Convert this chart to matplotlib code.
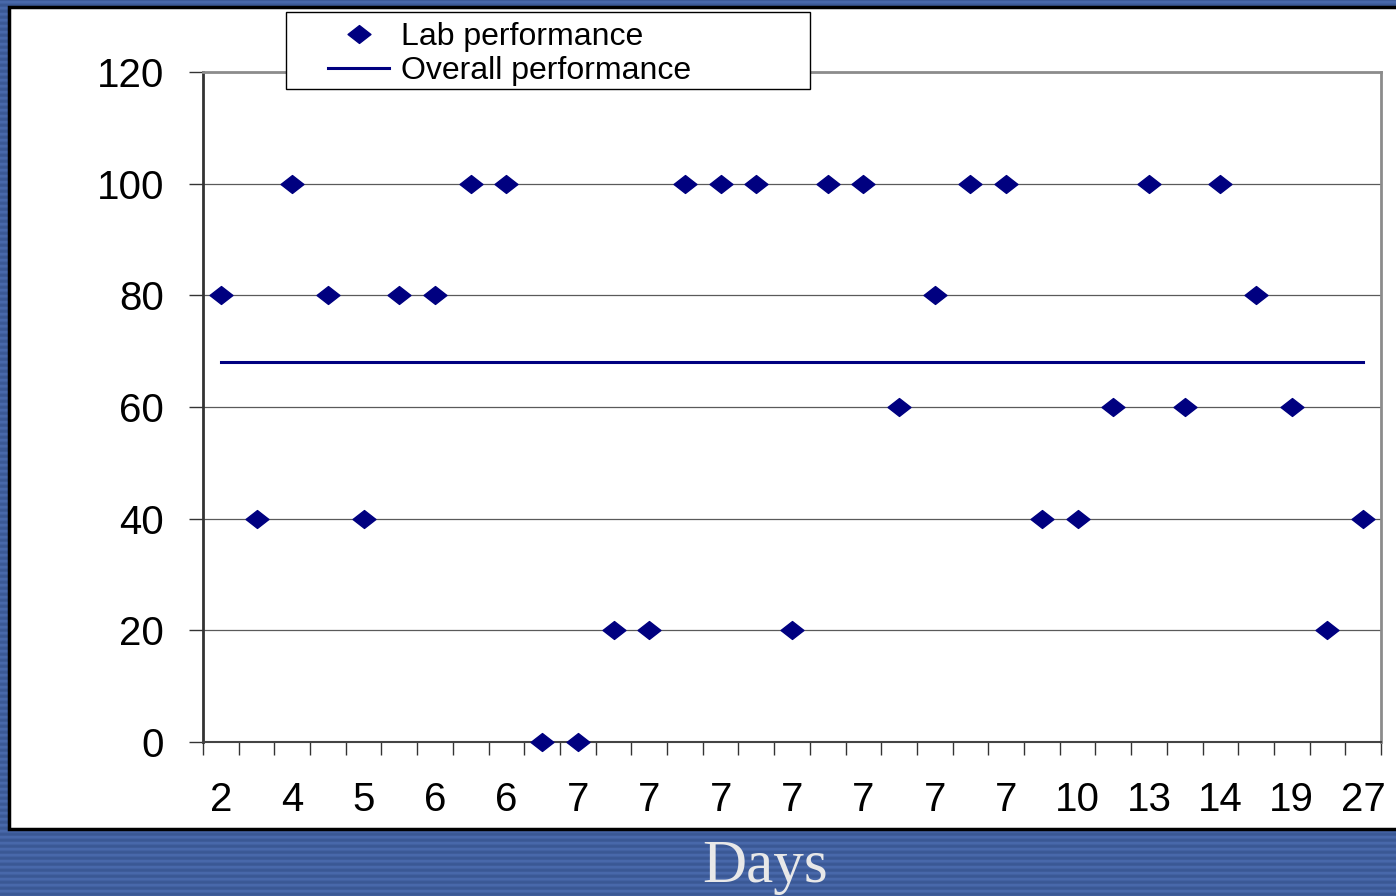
import matplotlib
matplotlib.use('Agg')
import matplotlib.pyplot as plt
import numpy as np
from matplotlib.patches import Rectangle
from matplotlib.path import Path
from matplotlib.lines import Line2D

plt.rcParams['font.family'] = ['Liberation Sans', 'DejaVu Sans']

# scores per lab session and the day labels shown under every other session
lab_scores = [80, 40, 100, 80, 40, 80, 80, 100, 100, 0, 0, 20, 20, 100, 100, 100, 20,
              100, 100, 60, 80, 100, 100, 40, 40, 60, 100, 60, 100, 80, 60, 20, 40]
day_labels = ['2', '4', '5', '6', '6', '7', '7', '7', '7', '7', '7', '7',
              '10', '13', '14', '19', '27']
overall_score = 68
y_ticks = [0, 20, 40, 60, 80, 100, 120]

NAVY = '#000080'
W, H = 1396, 896


def main():
    fig = plt.figure(figsize=(W / 100, H / 100), dpi=100)

    # striped blue slide background
    bg = fig.add_axes([0, 0, 1, 1], zorder=-3)
    rows = np.array([0.0, 0.3, 1.0, 1.0, 0.6, 0.1] * (H // 6 + 1))[:H]
    bg.imshow(rows[:, None], cmap=matplotlib.colors.LinearSegmentedColormap.from_list(
        'stripe', ['#3a5894', '#4868aa']), aspect='auto', extent=[0, 1, 0, 1],
        interpolation='nearest', vmin=0, vmax=1)
    bg.set_axis_off()

    # white chart panel with black border
    fig.patches.append(Rectangle((9 / W, 1 - 829 / H), 1.0, (829 - 7) / H,
                                 transform=fig.transFigure, facecolor='white',
                                 edgecolor='black', linewidth=2.5, zorder=-2))

    ax = fig.add_axes([203 / W, 1 - 742 / H, (1381 - 203) / W, (742 - 72) / H], zorder=0)
    ax.set_facecolor('white')
    x = np.arange(len(lab_scores))

    diamond = Path([(-1, 0), (0, 0.78), (1, 0), (0, -0.78), (-1, 0)],
                   [Path.MOVETO, Path.LINETO, Path.LINETO, Path.LINETO, Path.CLOSEPOLY])
    ax.plot(x, lab_scores, linestyle='none', marker=diamond, markersize=16.5,
            color=NAVY, zorder=3, clip_on=False)
    ax.plot([x[0], x[-1]], [overall_score, overall_score], color=NAVY,
            linewidth=2.2, zorder=2)

    ax.set_xlim(-0.5, len(lab_scores) - 0.5)
    ax.set_ylim(0, 120)
    ax.set_yticks(y_ticks)
    ax.yaxis.grid(True, color='#5a5a5a', linewidth=0.9)
    ax.set_axisbelow(True)

    # ticks on category boundaries, labels under every other category
    ax.set_xticks(np.arange(-0.5, len(lab_scores), 1.0))
    ax.set_xticklabels([])
    ax.set_xticks(x[::2], minor=True)
    ax.set_xticklabels(day_labels, minor=True)
    ax.tick_params(axis='x', which='major', direction='out', length=9,
                   width=1, color='#333333')
    ax.tick_params(axis='x', which='minor', length=0, pad=28, labelsize=29)
    ax.tick_params(axis='y', direction='out', length=10, width=1,
                   color='#333333', pad=18, labelsize=29)

    ax.spines['left'].set_color('#333333')
    ax.spines['left'].set_linewidth(2)
    ax.spines['bottom'].set_color('#444444')
    ax.spines['bottom'].set_linewidth(1.5)
    for side in ('top', 'right'):
        ax.spines[side].set_color('#8c8c8c')
        ax.spines[side].set_linewidth(2)

    # legend box at the top
    fig.patches.append(Rectangle((286 / W, 1 - 89 / H), (810 - 286) / W, (89 - 12) / H,
                                 transform=fig.transFigure, facecolor='white',
                                 edgecolor='black', linewidth=1, zorder=5))
    handles = [Line2D([], [], linestyle='none', marker=diamond, markersize=16.5, color=NAVY),
               Line2D([], [], color=NAVY, linewidth=2.2)]
    leg = fig.legend(handles, ['Lab performance', 'Overall performance'],
                     loc='upper left', bbox_to_anchor=(309 / W, 1 - 3 / H),
                     frameon=False, fontsize=23, handlelength=1.9,
                     handletextpad=0.38, labelspacing=0.12, borderpad=0.1)
    leg.set_zorder(6)

    fig.text(765 / W, 1 - 882 / H, 'Days', family='Liberation Serif', fontsize=44,
             color='#e8e8e8', ha='center', va='baseline')

    fig.savefig('out.png', dpi=100)


if __name__ == '__main__':
    main()
